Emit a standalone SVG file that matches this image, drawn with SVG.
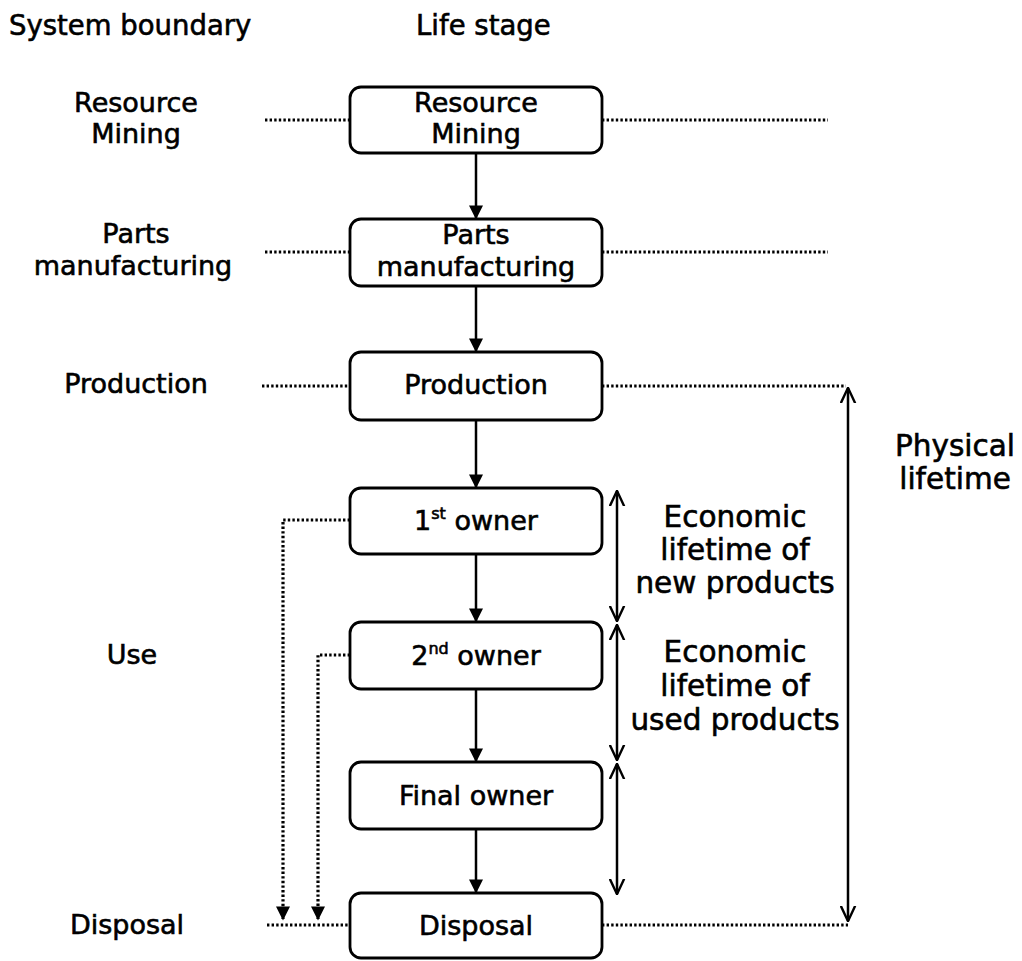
<svg xmlns="http://www.w3.org/2000/svg" width="1022" height="961" viewBox="0 0 1022 961">
<style>
text{font-family:"DejaVu Sans","Verdana",sans-serif;fill:#000;stroke:#000;stroke-width:0.6;text-anchor:middle;font-size:27px}
.hd{font-size:27.5px;text-anchor:start}
.big{font-size:29.5px}
.box{fill:#fff;stroke:#000;stroke-width:2.8}
.dot{fill:none;stroke:#000;stroke-width:3.2;stroke-dasharray:2.4 2.2}
.sol{fill:none;stroke:#000;stroke-width:2.5}
</style>
<defs>
<marker id="arr" viewBox="0 0 10 10" refX="9" refY="5" markerWidth="16" markerHeight="14" markerUnits="userSpaceOnUse" orient="auto"><path d="M0,0 L10,5 L0,10 z" fill="#000"/></marker>
<marker id="vee" viewBox="0 0 10 10" refX="9.5" refY="5" markerWidth="16" markerHeight="17" markerUnits="userSpaceOnUse" orient="auto-start-reverse"><path d="M0,0.5 L9.6,5 L0,9.5" fill="none" stroke="#000" stroke-width="1.5"/></marker>
</defs>
<rect width="1022" height="961" fill="#fff"/>
<g id="headers">
<text class="hd" x="9" y="35">System boundary</text>
<text class="hd" x="416" y="35">Life stage</text>
</g>
<g id="boundary-labels">
<text x="136" y="112">Resource</text><text x="136" y="143">Mining</text>
<text x="136" y="243">Parts</text><text x="133" y="275">manufacturing</text>
<text x="136" y="393">Production</text>
<text x="132" y="664">Use</text>
<text x="127" y="934">Disposal</text>
</g>
<g id="connectors">
<path class="sol" d="M476,153 V218" marker-end="url(#arr)"/>
<path class="sol" d="M476,286 V351" marker-end="url(#arr)"/>
<path class="sol" d="M476,420 V487" marker-end="url(#arr)"/>
<path class="sol" d="M476,554 V621" marker-end="url(#arr)"/>
<path class="sol" d="M476,689 V761" marker-end="url(#arr)"/>
<path class="sol" d="M476,829 V892" marker-end="url(#arr)"/>
<path class="dot" d="M265,120 H350 M602,120 H828"/>
<path class="dot" d="M265,252 H350 M602,252 H828"/>
<path class="dot" d="M262,386 H350 M602,386 H846"/>
<path class="dot" d="M267,925 H350 M602,925 H848"/>
<path class="dot" d="M350,520 H283 V919" marker-end="url(#arr)"/>
<path class="dot" d="M350,655 H318 V919" marker-end="url(#arr)"/>
<path class="sol" d="M617,491 V621" marker-start="url(#vee)" marker-end="url(#vee)"/>
<path class="sol" d="M617,625 V760" marker-start="url(#vee)" marker-end="url(#vee)"/>
<path class="sol" d="M617,764 V894" marker-start="url(#vee)" marker-end="url(#vee)"/>
<path class="sol" d="M848,388 V921" marker-start="url(#vee)" marker-end="url(#vee)"/>
</g>
<g id="n-mining"><rect class="box" x="350" y="87" width="252" height="66" rx="11"/><text x="476" y="112">Resource</text><text x="476" y="143">Mining</text></g>
<g id="n-parts"><rect class="box" x="350" y="219" width="252" height="67" rx="11"/><text x="476" y="244">Parts</text><text x="476" y="276">manufacturing</text></g>
<g id="n-production"><rect class="box" x="350" y="352" width="252" height="68" rx="11"/><text x="476" y="394">Production</text></g>
<g id="n-first"><rect class="box" x="350" y="488" width="252" height="66" rx="11"/><text x="476" y="530">1<tspan font-size="16" dy="-11">st</tspan><tspan dy="11"> owner</tspan></text></g>
<g id="n-second"><rect class="box" x="350" y="622" width="252" height="67" rx="11"/><text x="476" y="665">2<tspan font-size="16" dy="-11">nd</tspan><tspan dy="11"> owner</tspan></text></g>
<g id="n-final"><rect class="box" x="350" y="762" width="252" height="67" rx="11"/><text x="476" y="805">Final owner</text></g>
<g id="n-disposal"><rect class="box" x="350" y="893" width="252" height="65" rx="11"/><text x="476" y="935">Disposal</text></g>
<g id="lifetime-labels">
<text class="big" x="735" y="527">Economic</text><text class="big" x="735" y="560">lifetime of</text><text class="big" x="735" y="593">new products</text>
<text class="big" x="735" y="662">Economic</text><text class="big" x="735" y="696">lifetime of</text><text class="big" x="735" y="730">used products</text>
<text class="big" x="955" y="456">Physical</text><text class="big" x="955" y="489">lifetime</text>
</g>
</svg>
